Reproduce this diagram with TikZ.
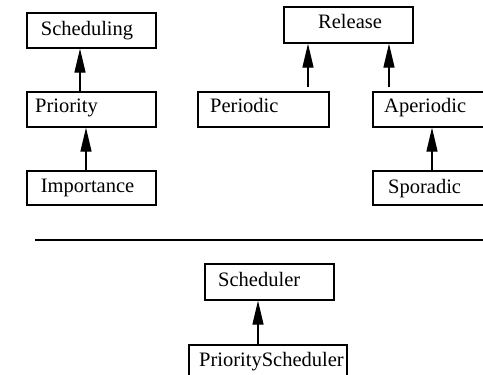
\documentclass[tikz,border=0pt]{standalone}
\usepackage{fontspec}
\setmainfont{Liberation Serif}
\usetikzlibrary{arrows.meta}
\begin{document}
\begin{tikzpicture}[x=1pt,y=-1pt,
  box/.style={draw,line width=1.3pt,rectangle,inner sep=0pt},
  lbl/.style={anchor=base west,inner sep=0pt,font=\fontsize{20.5}{24}\selectfont},
  inh/.style={line width=1.3pt,-{Triangle[length=24pt,width=11pt]}}]
\useasboundingbox (0,0) rectangle (483,375);
\clip (0,0) rectangle (483,375);
% boxes
\node[box,minimum width=129pt,minimum height=35pt] (scheduling) at (91.5,30.5) {};
\node[box,minimum width=129pt,minimum height=35pt] (priority) at (91.5,109.5) {};
\node[box,minimum width=129pt,minimum height=34pt] (importance) at (91.5,188) {};
\node[box,minimum width=129pt,minimum height=36pt] (release) at (348.5,25) {};
\node[box,minimum width=131pt,minimum height=35pt] (periodic) at (263.5,109.5) {};
\node[box,minimum width=131pt,minimum height=35pt] (aperiodic) at (438.5,109.5) {};
\node[box,minimum width=131pt,minimum height=34pt] (sporadic) at (438.5,188) {};
\node[box,minimum width=129pt,minimum height=36pt] (scheduler) at (269.5,282) {};
\node[box,minimum width=158pt,minimum height=45pt] (pscheduler) at (268,367.5) {};
% labels
\node[lbl] (tScheduling) at (40.7,35) {Scheduling};
\node[lbl] (tPriority) at (35,112.7) {Priority};
\node[lbl] (tImportance) at (40.7,192.7) {Importance};
\node[lbl] (tRelease) at (318,28.3) {Release};
\node[lbl] (tPeriodic) at (210,112) {Periodic};
\node[lbl] (tAperiodic) at (384,112) {Aperiodic};
\node[lbl] (tSporadic) at (388,193) {Sporadic};
\node[lbl] (tScheduler) at (218,286.7) {Scheduler};
\node[lbl] (tPScheduler) at (199,366) {PriorityScheduler};
% inheritance arrows
\draw[inh] (80,0 |- priority.north) -- (80,0 |- scheduling.south);
\draw[inh] (86,0 |- importance.north) -- (86,0 |- priority.south);
\draw[inh,shorten <=4pt] (308,0 |- periodic.north) -- (308,0 |- release.south);
\draw[inh,shorten <=4pt] (389,0 |- aperiodic.north) -- (389,0 |- release.south);
\draw[inh] (432,0 |- sporadic.north) -- (432,0 |- aperiodic.south);
\draw[inh] (258,0 |- pscheduler.north) -- (258,0 |- scheduler.south);
% separator
\coordinate (sepL) at (35,240);
\coordinate (sepR) at (483,240);
\draw[line width=1.3pt] (sepL) -- (sepR);
\end{tikzpicture}
\end{document}
